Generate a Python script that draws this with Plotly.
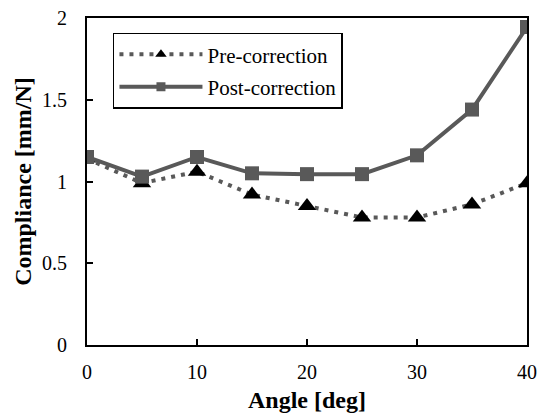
import plotly.graph_objects as go

# Compliance measured at each angle, before and after correction
angles = [0, 5, 10, 15, 20, 25, 30, 35, 40]
pre_correction = [1.14, 0.99, 1.06, 0.92, 0.85, 0.78, 0.78, 0.86, 0.99]
post_correction = [1.15, 1.03, 1.15, 1.05, 1.045, 1.045, 1.16, 1.44, 1.945]

series_names = ["Pre-correction", "Post-correction"]

x_ticks = [0, 10, 20, 30, 40]
y_ticks = [0, 0.5, 1, 1.5, 2]
y_tick_labels = ["0", "0.5", "1", "1.5", "2"]

serif = "Liberation Serif"
gray = "#595959"

pre_line = dict(color=gray, width=4, dash="4px,6px")
post_line = dict(color=gray, width=4)

fig = go.Figure()

# Data traces (full-size markers)
fig.add_trace(go.Scatter(
    x=angles, y=pre_correction, name=series_names[0], showlegend=False,
    mode="lines+markers", line=pre_line,
    marker=dict(symbol="triangle-up", size=16, color="black"),
))
fig.add_trace(go.Scatter(
    x=angles, y=post_correction, name=series_names[1], showlegend=False,
    mode="lines+markers", line=post_line,
    marker=dict(symbol="square", size=14, color=gray),
))

# Legend entries with smaller symbols
fig.add_trace(go.Scatter(
    x=[None], y=[None], name=series_names[0], legendgroup="pre",
    mode="lines+markers", line=pre_line,
    marker=dict(symbol="triangle-up", size=10, color="black"),
))
fig.add_trace(go.Scatter(
    x=[None], y=[None], name=series_names[1], legendgroup="post",
    mode="lines+markers", line=post_line,
    marker=dict(symbol="square", size=9, color=gray),
))

axis_common = dict(
    showgrid=False, zeroline=False, showline=True, linecolor="black",
    linewidth=2, mirror=True, ticks="inside", ticklen=6, tickwidth=1.5,
    tickcolor="black", tickfont=dict(family=serif, size=20, color="black"),
    automargin=False,
)

fig.update_xaxes(
    range=[0, 40], tickvals=x_ticks, ticklabelstandoff=8, **axis_common,
    title=dict(text="<b>Angle [deg]</b>", font=dict(family=serif, size=24, color="black"),
               standoff=10),
)
fig.update_yaxes(
    range=[0, 2], tickvals=y_ticks, ticktext=y_tick_labels, ticklabelstandoff=14,
    **axis_common,
    title=dict(text="<b>Compliance [mm/N]</b>", font=dict(family=serif, size=24, color="black"),
               standoff=4),
)

fig.update_layout(
    width=538, height=413,
    margin=dict(l=87, r=11, t=18, b=68),
    paper_bgcolor="white", plot_bgcolor="white",
    font=dict(family=serif),
    showlegend=True,
    legend=dict(
        x=0.059, y=0.955, xanchor="left", yanchor="top",
        bordercolor="black", borderwidth=1.5, bgcolor="white",
        font=dict(family=serif, size=21, color="black"),
        itemwidth=83, traceorder="grouped", tracegroupgap=2,
    ),
)

fig.write_html("out.html")
